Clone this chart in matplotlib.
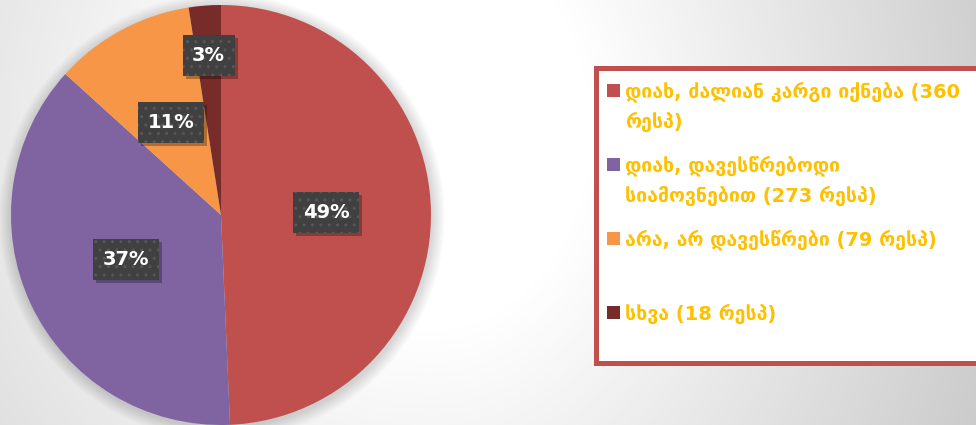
import numpy as np
import matplotlib
matplotlib.use("Agg")
import matplotlib.pyplot as plt
from matplotlib.patches import Rectangle, Circle

# ---- data ----
categories = ["დიახ, ძალიან კარგი იქნება (360\nრესპ)",
              "დიახ, დავესწრებოდი\nსიამოვნებით (273 რესპ)",
              "არა, არ დავესწრები (79 რესპ)",
              "სხვა (18 რესპ)"]
values = [360, 273, 79, 18]
pct_labels = ["49%", "37%", "11%", "3%"]

# ---- style ----
colors = ["#C0504D", "#8064A2", "#F79646", "#772C2A"]
label_r = [0.5, 0.5, 0.5, 0.76]
legend_y = [90, 164, 238, 312]   # image pixel rows of legend entries
W, H = 976, 425
CX, CY, R = 221, 210, 210

fig = plt.figure(figsize=(W / 100, H / 100), dpi=100)
ax = fig.add_axes([0, 0, 1, 1])
ax.set_axis_off()

# background gradient
yy, xx = np.mgrid[0:H, 0:W]
bx, by = 430, 130
sx = np.where(xx > bx, 1.25, 1.0)
d = np.hypot((xx - bx) * sx, yy - by)
g = np.clip(255 - np.maximum(0, d - 200) * 0.095, 0, 255) / 255
ax.imshow(np.dstack([g, g, g]), extent=(0, W, 0, H), origin='upper',
          zorder=0, aspect='auto')

# soft pie shadow
for k in range(1, 14):
    ax.add_patch(Circle((CX + 1, CY - 2), R + k, color='black', alpha=0.012,
                        lw=0, zorder=1))

wedges, _ = ax.pie(values, colors=colors, startangle=90, counterclock=False,
                   center=(CX, CY), radius=R, wedgeprops=dict(linewidth=0))
for w in wedges:
    w.set_zorder(2)

ax.set_xlim(0, W)
ax.set_ylim(0, H)
ax.set_aspect('auto')

renderer = fig.canvas.get_renderer()
for w, lab, lr in zip(wedges, pct_labels, label_r):
    th = np.deg2rad((w.theta1 + w.theta2) / 2)
    x = CX + lr * R * np.cos(th)
    y = CY + lr * R * np.sin(th)
    t = ax.text(x, y, lab, ha='center', va='center', fontsize=14,
                fontweight='bold', color='white', zorder=5)
    bb = t.get_window_extent(renderer)
    bw = bb.width + 19
    bh = 41
    ax.add_patch(Rectangle((x - bw / 2 + 3, y - bh / 2 - 3), bw, bh,
                           fc=(0, 0, 0, 0.28), lw=0, zorder=3))
    ax.add_patch(Rectangle((x - bw / 2, y - bh / 2), bw, bh, fc='#404040',
                           ec='#575757', lw=0, hatch='..', zorder=4))

# legend box
ax.add_patch(Rectangle((595.5, H - 362.5), 420, 295, fc='white',
                       ec='#C0504D', lw=3.6, zorder=2))
for lab, col, yi in zip(categories, colors, legend_y):
    ax.add_patch(Rectangle((607, H - yi - 6.5), 13, 13, fc=col, lw=0,
                           zorder=3))
    for j, line in enumerate(lab.split("\n")):
        ax.text(625, H - (yi + 2) - 30 * j, line, ha='left', va='center',
                fontsize=14, fontweight='bold', color='#FFC000',
                family='DejaVu Sans', zorder=3, clip_on=True)

fig.savefig("out.png", dpi=100)
